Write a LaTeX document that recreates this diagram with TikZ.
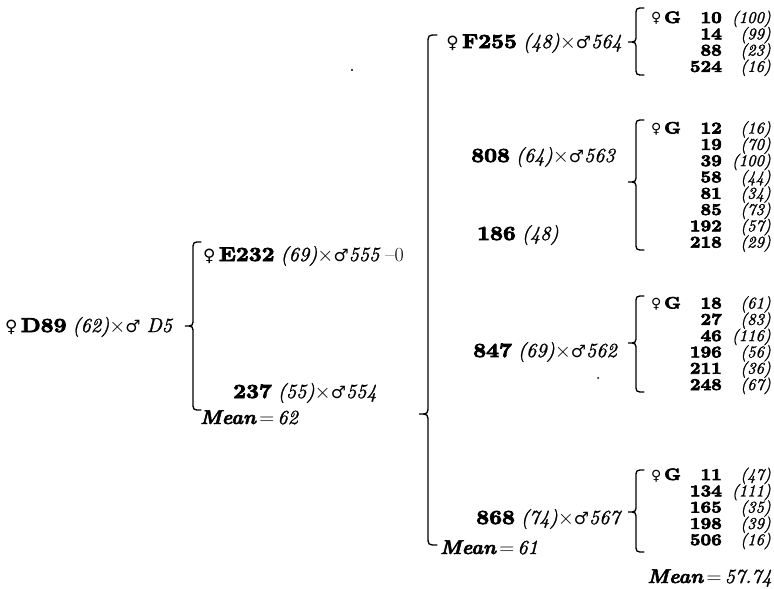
\documentclass[tikz,border=0pt]{standalone}
\usepackage{fontspec}
\newfontfamily\symf[Scale=0.85]{DejaVu Sans}
\newfontfamily\hvy[FakeBold=4,FakeStretch=1.12]{lmroman10-bold.otf}
\newfontfamily\hvyit[FakeBold=2.5]{lmroman10-bolditalic.otf}
\newfontfamily\itf[FakeBold=1.2]{lmroman10-italic.otf}
\newcommand\fem{{\symf ♀}}
\newcommand\mal{{\symf ♂}}
\newcommand\bx{\ensuremath{\times}}
\newcommand\hb[1]{{\hvy #1}}
\newcommand\ti[1]{{\itf #1}}
\newcommand\mean{{\hvyit Mean}}
\newcommand\drawbrace[5]{%
  \draw[bracestyle] (#1+#5,#2) .. controls (#1,#2) .. (#1,#2+#5) -- (#1,#3-#5)
    .. controls (#1,#3) .. (#1-#5,#3) .. controls (#1,#3) .. (#1,#3+#5)
    -- (#1,#4-#5) .. controls (#1,#4) .. (#1+#5,#4);}
\begin{document}
\begin{tikzpicture}[x=1pt,y=-1pt,
  txt/.style={inner sep=0pt, font=\fontsize{20}{16.3}\selectfont},
  col/.style={inner sep=0pt, font=\fontsize{16.5}{16.3}\selectfont},
  bracestyle/.style={line width=1.3pt, line cap=round}]
\useasboundingbox (0,0) rectangle (774,589);
\fill[white] (0,0) rectangle (774,589);
% left
\node[txt, anchor=base west] (d) at (5,332) {\fem\,\hb{D89} \ti{(62)}\bx\mal\ \ti{D5}};
\drawbrace{193}{242}{326}{410}{8}
\node[txt, anchor=base west] (e) at (203,261) {\fem\,\hb{E232} \ti{(69)}\bx\mal\ti{555}\ –0};
\node[txt, anchor=base west] (f) at (233,398) {\hb{237} \ti{(55)}\bx\mal\ti{554}};
\node[txt, anchor=base west] (m62) at (200,424) {\mean\,$=$\,\ti{62}};
% big brace
\drawbrace{428}{35}{414}{545}{9}
% middle
\node[txt, anchor=base east] (p1) at (622,48) {\fem\,\hb{F255} \ti{(48)}\bx\mal\ti{564}};
\node[txt, anchor=base east] (p2) at (615,162) {\hb{808} \ti{(64)}\bx\mal\ti{563}};
\node[txt, anchor=base west] (p2b) at (477,240) {\hb{186} \ti{(48)}};
\node[txt, anchor=base east] (p3) at (617,357) {\hb{847} \ti{(69)}\bx\mal\ti{562}};
\node[txt, anchor=base east] (p4) at (620,524) {\hb{868} \ti{(74)}\bx\mal\ti{567}};
\node[txt, anchor=base west] (m61) at (440,554) {\mean\,$=$\,\ti{61}};
% right braces
\drawbrace{636}{8}{42}{75}{8}
\drawbrace{636}{120}{182}{250}{8}
\drawbrace{636}{296}{343}{392}{8}
\drawbrace{636}{470}{512}{552}{8}
% right column groups
\node[col, anchor=base west] (g1f) at (651,23) {\fem\,\hb{G}};
\foreach \n/\p [count=\i from 0] in {10/(100),14/(99),88/(23),524/(16)}{
  \node[col, anchor=base east] (g1n\i) at (722,23+\i*16.3) {\hb{\n}};
  \node[col, anchor=base east] (g1p\i) at (771,23+\i*16.3) {\ti{\p}};}
\node[col, anchor=base west] (g2f) at (651,133.5) {\fem\,\hb{G}};
\foreach \n/\p [count=\i from 0] in {12/(16),19/(70),39/(100),58/(44),81/(34),85/(73),192/(57),218/(29)}{
  \node[col, anchor=base east] (g2n\i) at (722,133.5+\i*16.3) {\hb{\n}};
  \node[col, anchor=base east] (g2p\i) at (771,133.5+\i*16.3) {\ti{\p}};}
\node[col, anchor=base west] (g3f) at (651,308.5) {\fem\,\hb{G}};
\foreach \n/\p [count=\i from 0] in {18/(61),27/(83),46/(116),196/(56),211/(36),248/(67)}{
  \node[col, anchor=base east] (g3n\i) at (722,308.5+\i*16.3) {\hb{\n}};
  \node[col, anchor=base east] (g3p\i) at (771,308.5+\i*16.3) {\ti{\p}};}
\node[col, anchor=base west] (g4f) at (651,480) {\fem\,\hb{G}};
\foreach \n/\p [count=\i from 0] in {11/(47),134/(111),165/(35),198/(39),506/(16)}{
  \node[col, anchor=base east] (g4n\i) at (722,480+\i*16.3) {\hb{\n}};
  \node[col, anchor=base east] (g4p\i) at (771,480+\i*16.3) {\ti{\p}};}
\node[txt, anchor=base east] (m57) at (772,583) {\mean\,$=$\,\ti{57.74}};
% specks
\fill (352,70) circle (1.2);
\fill (598,378) circle (1);
\end{tikzpicture}
\end{document}
